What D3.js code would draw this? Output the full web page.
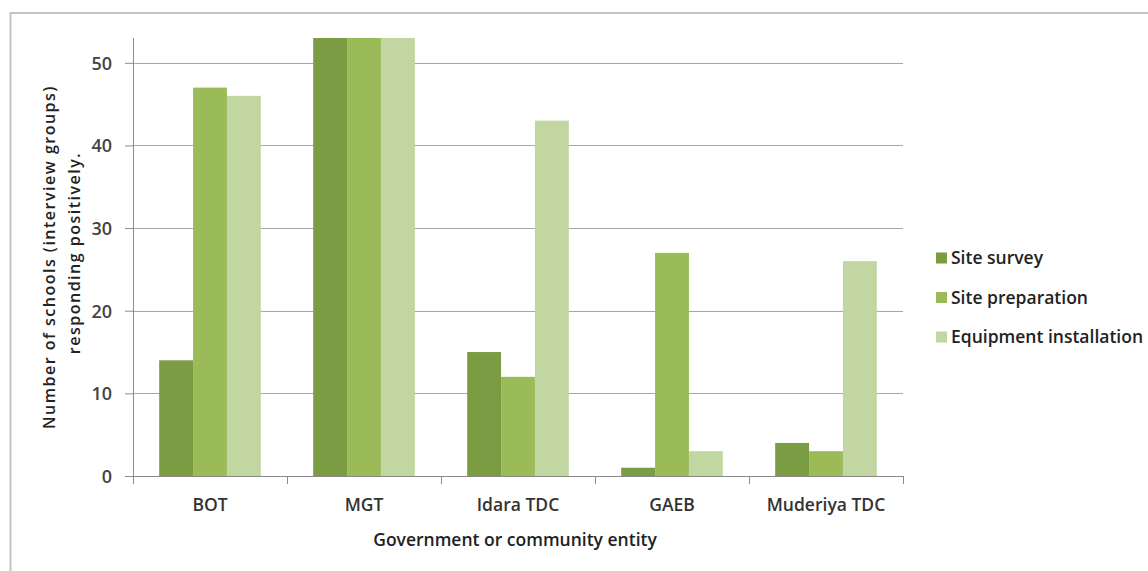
<!DOCTYPE html>
<html>
<head>
<meta charset="utf-8">
<script src="https://cdn.jsdelivr.net/npm/d3@7"></script>
<style>
  body { margin: 0; background: white; }
  svg text { font-family: "Open Sans", Lato, sans-serif; font-weight: 600; }
</style>
</head>
<body>
<main></main>
<script>
// values
let entities = ["BOT", "MGT", "Idara TDC", "GAEB", "Muderiya TDC"]
let seriesNames = ["Site survey", "Site preparation", "Equipment installation"]
let siteSurvey = [14, 53, 15, 1, 4]
let sitePreparation = [47, 53, 12, 27, 3]
let equipmentInstallation = [46, 53, 43, 3, 26]
let yTicks = [0, 10, 20, 30, 40, 50]
let colors = ["#7b9c42", "#9bbb59", "#c2d6a1"]

const svgWidth = 1148
const svgHeight = 571

const plotLeft = 133
const plotRight = 903
const plotTop = 38
const plotBottom = 476

let allSeries = [siteSurvey, sitePreparation, equipmentInstallation]

let svg = d3.select("main")
    .append("svg")
    .attr("width", svgWidth)
    .attr("height", svgHeight)

// chart frame
svg.append("rect")
    .attr("x", 10.5)
    .attr("y", 13)
    .attr("width", svgWidth)
    .attr("height", svgHeight)
    .attr("fill", "white")
    .attr("stroke", "#c4c4c4")
    .attr("stroke-width", 2)

let yScale = d3.scaleLinear()
    .domain([0, 53])
    .range([plotBottom, plotTop])

let xScale = d3.scaleBand()
    .domain(entities)
    .range([plotLeft, plotRight])
    .paddingInner(0.34)
    .paddingOuter(0.17)

let innerScale = d3.scaleBand()
    .domain(seriesNames)
    .range([0, xScale.bandwidth()])

// gridlines
svg.append("g")
    .selectAll("line")
    .data(yTicks.filter(t => t > 0))
    .enter()
    .append("line")
    .attr("x1", plotLeft)
    .attr("x2", plotRight)
    .attr("y1", d => Math.round(yScale(d)) + 0.5)
    .attr("y2", d => Math.round(yScale(d)) + 0.5)
    .attr("stroke", "#a6a6a6")
    .attr("stroke-width", 1.2)

// bars
let groups = svg.append("g")
    .selectAll("g")
    .data(seriesNames)
    .enter()
    .append("g")
    .attr("fill", (s, i) => colors[i])

groups.selectAll("rect")
    .data((s, i) => allSeries[i].map((v, j) => ({ series: s, entity: entities[j], value: v })))
    .enter()
    .append("rect")
    .attr("x", d => xScale(d.entity) + innerScale(d.series))
    .attr("y", d => yScale(d.value))
    .attr("width", innerScale.bandwidth())
    .attr("height", d => yScale(0) - yScale(d.value))

// y axis
let leftAxis = d3.axisLeft(yScale)
    .tickValues(yTicks)
    .tickSize(8)
    .tickPadding(13)

let yAxis = svg.append("g")
    .attr("transform", `translate(${plotLeft}, 0)`)
    .call(leftAxis)

yAxis.select("path")
    .attr("d", `M0.5,${plotTop}V${plotBottom}`)
    .style("stroke", "#8c8c8c")

yAxis.selectAll("line")
    .style("stroke", "#8c8c8c")

yAxis.selectAll("text")
    .style("font-size", "18px")
    .style("font-family", "'Open Sans', sans-serif")
    .attr("dy", "0.36em")
    .attr("fill", "#444")

// x axis
let bottomAxis = d3.axisBottom(xScale)
    .tickSize(0)

let xAxis = svg.append("g")
    .attr("transform", `translate(0, ${plotBottom})`)
    .call(bottomAxis)

xAxis.select("path")
    .attr("d", `M${plotLeft},0.5H${plotRight}`)
    .style("stroke", "#8c8c8c")

xAxis.selectAll("text")
    .attr("dy", null)
    .attr("y", 35)
    .style("font-size", "17.5px")
    .style("font-family", "'Open Sans', sans-serif")
    .attr("fill", "#333")

// category boundary ticks
let boundaries = d3.range(entities.length + 1).map(i => plotLeft + i * (plotRight - plotLeft) / entities.length)
xAxis.selectAll(".boundary")
    .data(boundaries)
    .enter()
    .append("line")
    .attr("x1", d => Math.round(d) + 0.5)
    .attr("x2", d => Math.round(d) + 0.5)
    .attr("y1", 0)
    .attr("y2", 8)
    .attr("stroke", "#8c8c8c")

// axis titles
svg.append("text")
    .attr("x", 515)
    .attr("y", 546)
    .attr("text-anchor", "middle")
    .style("font-size", "17.5px")
    .attr("fill", "#222")
    .text("Government or community entity")

svg.append("text")
    .attr("transform", "translate(55, 257) rotate(-90)")
    .attr("text-anchor", "middle")
    .style("font-size", "16px")
    .style("letter-spacing", "1.5px")
    .attr("fill", "#222")
    .text("Number of schools (interview groups)")

svg.append("text")
    .attr("transform", "translate(80, 253) rotate(-90)")
    .attr("text-anchor", "middle")
    .style("font-size", "16px")
    .style("letter-spacing", "1.5px")
    .attr("fill", "#222")
    .text("responding positively.")

// legend
let legend = svg.append("g")
    .selectAll("g")
    .data(seriesNames)
    .enter()
    .append("g")
    .attr("transform", (s, i) => `translate(936, ${258 + i * 39.5})`)

legend.append("rect")
    .attr("x", 0)
    .attr("y", -5.5)
    .attr("width", 11)
    .attr("height", 11)
    .attr("fill", (s, i) => colors[i])

legend.append("text")
    .attr("x", 15)
    .attr("y", 6)
    .style("font-size", "17.5px")
    .attr("fill", "#222")
    .text(s => s)
</script>
</body>
</html>
